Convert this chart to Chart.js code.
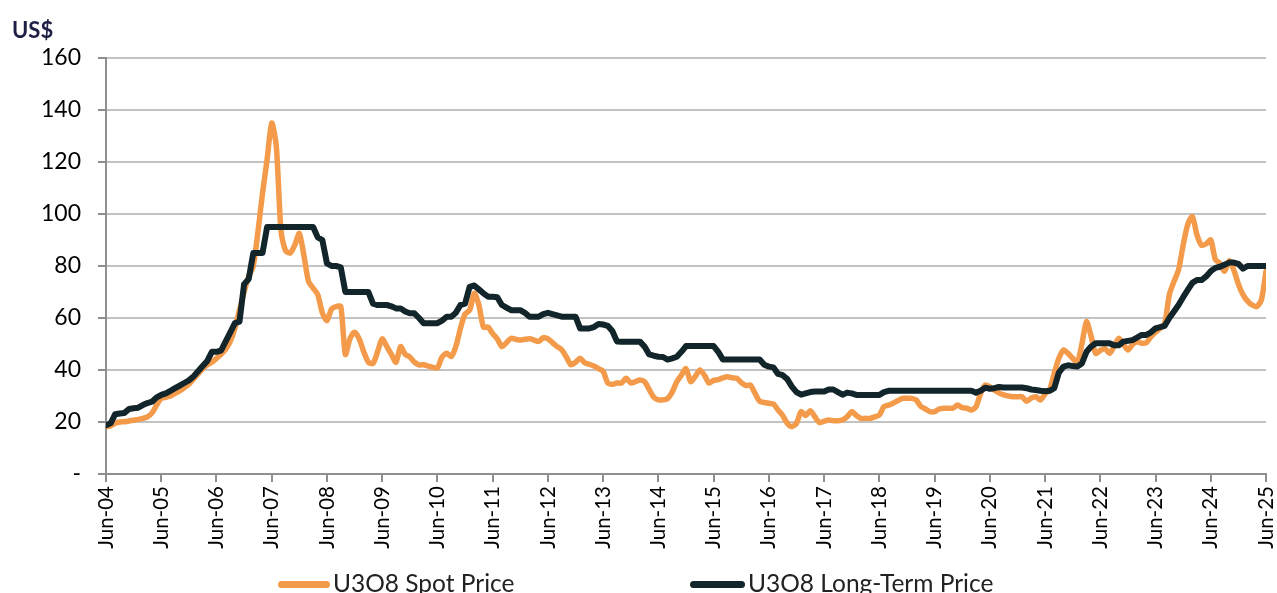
<!DOCTYPE html>
<html>
<head>
<meta charset="utf-8">
<script src="https://cdn.jsdelivr.net/npm/chart.js@4.4.1/dist/chart.umd.min.js"></script>
<style>
  html, body { margin: 0; padding: 0; background: #fff; overflow: hidden; }
  #wrap { position: relative; width: 1277px; height: 593px; }
  #unit { position: absolute; left: 12px; top: 16px; font: bold 22px Lato, sans-serif; color: #1d1f45; }
  .leg { position: absolute; top: 569px; font: 24.5px Lato, sans-serif; color: #222; white-space: nowrap; line-height: 28px; }
  .leg i { display: inline-block; width: 52px; height: 7px; border-radius: 4px; vertical-align: middle; margin-right: 3px; position: relative; top: -1px; }
</style>
</head>
<body>
<div id="wrap">
  <canvas id="priceChart"></canvas>
  <div id="unit">US$</div>
  <div class="leg" style="left:278px"><i style="background:#f39b4b"></i>U3O8 Spot Price</div>
  <div class="leg" style="left:690px"><i style="background:#12252a;width:55px"></i>U3O8 Long-Term Price</div>
</div>
<script>
// monthly values, Jun-04 .. Jun-25 (one row = Jun..May)
const spotPrice = [
  18.2, 18.5, 19.5, 20, 20.1, 20.4, 20.7, 21, 21.4, 22, 23.5, 26.5,
  29.1, 29.5, 30, 31, 32, 33.2, 34.5, 36.5, 38.5, 40.5, 42, 43,
  44.5, 46, 48, 51, 56, 63, 70, 76, 80, 93, 108, 121,
  135, 126, 94, 86, 85, 88, 92.5, 84, 74, 71.5, 69, 62,
  59, 63.5, 64.4, 64.4, 46, 52, 54.5, 52, 47, 43, 42.5, 47,
  52, 49, 46, 43, 49, 46, 45, 43, 42, 42, 41.5, 41,
  40.8, 45, 46.4, 45.2, 49, 56, 61.5, 63, 69.5, 65, 56.5, 56.5,
  54, 52, 49, 50.5, 52.2, 51.8, 51.5, 51.8, 52, 51.5, 51, 52.4,
  52, 50.5, 49, 47.8, 45, 42, 43, 44.5, 42.8, 42.2, 41.5, 40.5,
  39.5, 35, 34.5, 35, 35, 36.8, 35, 35.5, 36.2, 35.5, 32.5, 29.5,
  28.5, 28.5, 29, 31.5, 35.5, 38, 40.5, 35.5, 37.5, 40, 38, 35,
  36, 36.3, 37, 37.4, 37, 36.8, 35.2, 34, 34.2, 31, 28, 27.5,
  27.2, 26.9, 24.6, 22.5, 19.5, 18.2, 19.5, 24, 22.5, 24.3, 22, 19.8,
  20.3, 20.8, 20.5, 20.5, 20.8, 22, 24, 22.5, 21.4, 21.4, 21.4, 22,
  22.7, 25.9, 26.5, 27.2, 28.2, 29.1, 29.1, 29.1, 28.5, 26, 25, 24,
  24, 25, 25.3, 25.3, 25.3, 26.5, 25.5, 25.3, 24.6, 25.9, 31, 34.2,
  33.5, 32.3, 31.2, 30.4, 30, 29.7, 29.7, 29.7, 28, 29.2, 29.7, 28.5,
  30.8, 32.5, 38.7, 44.5, 47.7, 46.4, 44.5, 42.8, 50, 58.6, 53, 46.4,
  47.5, 48.3, 46.4, 49, 52.2, 50, 47.7, 49.8, 50.9, 50.3, 50.5, 52.8,
  54.5, 56, 58, 69, 74, 78.5, 88, 96, 99, 92, 88, 88.5,
  90, 82.5, 81, 78, 82, 78.5, 73, 69, 66.5, 65, 64.4, 67,
  78
];

const longTermPrice = [
  18.8, 19.5, 23, 23.3, 23.5, 25, 25.3, 25.5, 26.5, 27.3, 27.8, 29.5,
  30.4, 31, 32, 33, 34, 35, 36, 37.5, 39.5, 41.5, 43.5, 47,
  47, 47.5, 51, 54.5, 58, 58.6, 73, 75, 85, 85, 85, 95,
  95, 95, 95, 95, 95, 95, 95, 95, 95, 95, 91, 90,
  81, 80, 80, 79.5, 70, 70, 70, 70, 70, 70, 65.5, 65,
  65, 65, 64.5, 63.7, 63.7, 62.5, 61.8, 61.8, 60, 58, 58, 58,
  58, 59, 60.5, 60.5, 62, 65, 65.5, 72, 72.5, 71, 69.5, 68.2,
  68.2, 68, 65, 64, 63, 63, 63, 62, 60.5, 60.5, 60.5, 61.5,
  62, 61.5, 61, 60.5, 60.5, 60.5, 60.5, 56, 56, 56, 56.5, 57.7,
  57.5, 57, 55, 51, 50.9, 50.9, 50.9, 50.9, 50.9, 49, 46, 45.5,
  45.1, 45, 44, 44.5, 45.1, 47, 49.2, 49.2, 49.2, 49.2, 49.2, 49.2,
  49.2, 47, 44, 44, 44, 44, 44, 44, 44, 44, 44, 42,
  41.3, 41, 38.5, 38, 36.5, 33.6, 31.5, 30.5, 31, 31.5, 31.7, 31.7,
  31.7, 32.5, 32.5, 31.5, 30.5, 31.3, 31, 30.4, 30.4, 30.4, 30.4, 30.4,
  30.4, 31.5, 32, 32, 32, 32, 32, 32, 32, 32, 32, 32,
  32, 32, 32, 32, 32, 32, 32, 32, 32, 31.3, 32, 33.2,
  32.8, 33, 33.5, 33.3, 33.3, 33.3, 33.3, 33.3, 33, 32.5, 32.3, 32,
  31.8, 32, 33, 39, 41.3, 41.8, 41.5, 41.3, 42.5, 47, 49, 50.3,
  50.3, 50.3, 50.3, 49.5, 49.5, 50.9, 51.2, 51.5, 52.5, 53.5, 53.5, 54.5,
  56, 56.5, 57, 60, 62.5, 65, 68, 70.8, 73.5, 74.6, 74.6, 76,
  78, 79.3, 79.7, 80.5, 81.3, 81.3, 80.8, 79, 80, 80, 80, 80,
  80
];

const tickLabels = [
  "Jun-04", "Jun-05", "Jun-06", "Jun-07", "Jun-08", "Jun-09", "Jun-10", "Jun-11",
  "Jun-12", "Jun-13", "Jun-14", "Jun-15", "Jun-16", "Jun-17", "Jun-18", "Jun-19",
  "Jun-20", "Jun-21", "Jun-22", "Jun-23", "Jun-24", "Jun-25"
];

const AXIS_GREY = "#8f8f8f";
const GRID_GREY = "#c3c3c3";

Chart.defaults.font.family = "Lato, sans-serif";
Chart.defaults.color = "#000";

function toPoints(arr) {
  return arr.map((v, i) => ({ x: i, y: v }));
}

const canvas = document.getElementById("priceChart");
canvas.width = 1277;
canvas.height = 593;

new Chart(canvas, {
  type: "line",
  data: {
    datasets: [
      {
        label: "U3O8 Spot Price",
        data: toPoints(spotPrice),
        borderColor: "#f39b4b",
        backgroundColor: "#f39b4b",
        borderWidth: 5.5,
        tension: 0.25,
        pointRadius: 0,
        borderJoinStyle: "round",
        borderCapStyle: "round",
        order: 2
      },
      {
        label: "U3O8 Long-Term Price",
        data: toPoints(longTermPrice),
        borderColor: "#12252a",
        backgroundColor: "#12252a",
        borderWidth: 6,
        tension: 0,
        pointRadius: 0,
        borderJoinStyle: "round",
        borderCapStyle: "round",
        order: 1
      }
    ]
  },
  options: {
    responsive: false,
    animation: false,
    layout: { padding: { left: 0, right: 11, top: 58, bottom: 0 } },
    plugins: {
      legend: { display: false },
      tooltip: { enabled: false }
    },
    scales: {
      x: {
        type: "linear",
        min: 0,
        max: 252,
        afterFit: (s) => {
          s.height = 119;
          s.paddingLeft = 0;
          s.paddingRight = 0;
        },
        ticks: {
          stepSize: 12,
          autoSkip: false,
          maxRotation: 90,
          minRotation: 90,
          padding: 4,
          font: { size: 20.5 },
          callback: (v) => tickLabels[v / 12]
        },
        grid: {
          drawOnChartArea: false,
          tickLength: 8,
          tickColor: AXIS_GREY,
          lineWidth: 2
        },
        border: { color: AXIS_GREY, width: 2 }
      },
      y: {
        min: 0,
        max: 160,
        afterFit: (s) => {
          s.width = 106;
          s.paddingTop = 0;
          s.paddingBottom = 0;
        },
        ticks: {
          stepSize: 20,
          padding: 17,
          font: { size: 23 },
          callback: (v) => (v === 0 ? "-" : v)
        },
        grid: {
          color: GRID_GREY,
          lineWidth: 2,
          tickLength: 8,
          tickColor: AXIS_GREY
        },
        border: { color: AXIS_GREY, width: 2 }
      }
    }
  }
});
</script>
</body>
</html>
